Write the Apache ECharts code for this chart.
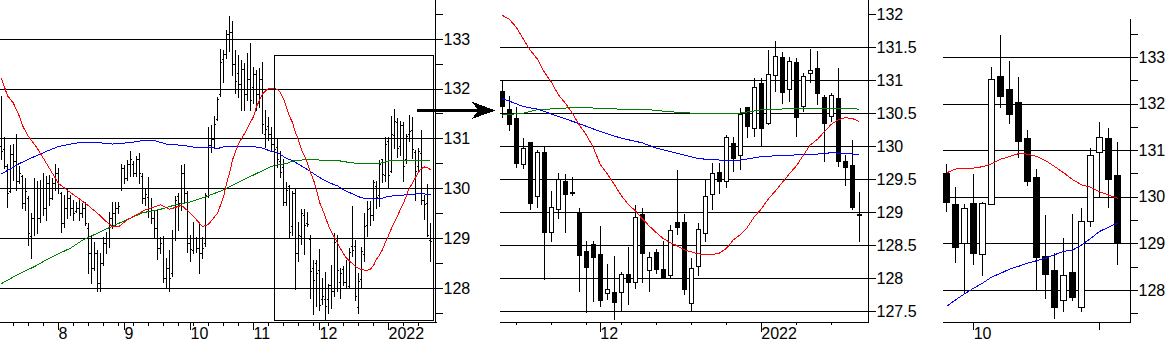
<!DOCTYPE html>
<html><head><meta charset="utf-8">
<script src="https://cdn.jsdelivr.net/npm/echarts@6/dist/echarts.min.js"></script>
<style>html,body{margin:0;padding:0;background:#fff}#c{width:1168px;height:358px}
#c svg path,#c svg line,#c svg rect,#c svg polyline,#c svg polygon{shape-rendering:crispEdges}</style>
</head><body><div id="c"></div><script>
// ---------------- DATA ----------------
const dayStart = '2021-07-06';      // first daily bar
const dayCount = 144;
const zoomFrom = 92;                // first bar of the zoomed (middle) panel
const weekStart = '2021-09-06';     // first weekly candle
const weekCount = 20;
const weekTickIdx = [3, 17];
const weekTickText = ['10', ''];

const dOpen = [130.85,130.80,130.45,129.95,130.70,130.55,130.15,130.25,129.70,129.80,
129.05,129.40,130.00,129.40,130.00,129.60,130.10,129.80,130.10,130.30,
129.90,129.30,129.60,129.80,129.60,129.55,129.60,129.50,129.60,129.20,
128.70,128.40,128.70,128.10,128.50,128.90,129.00,129.40,129.50,129.60,
130.00,130.40,130.20,130.50,130.50,130.30,130.60,130.25,129.80,129.83,
129.60,129.40,129.20,128.80,129.01,128.20,128.40,128.30,129.00,129.85,
129.70,130.30,129.90,128.90,128.77,129.00,128.80,128.70,128.90,129.84,
130.87,131.00,131.40,131.90,132.59,132.70,133.10,133.15,132.50,132.31,
132.10,132.40,131.90,132.20,132.03,132.30,131.90,132.20,131.10,131.26,
131.10,130.90,
130.83,130.56,130.42,129.72,130.05,129.24,129.91,128.70,
129.04,129.47,129.30,128.99,128.41,128.51,128.36,127.77,127.78,127.78,
128.06,127.93,128.97,128.12,128.39,128.13,128.04,128.85,128.84,127.62,
128.18,128.68,129.27,129.60,129.46,130.04,129.86,130.59,130.27,130.95,
130.34,131.07,131.34,130.86,131.27,130.60,131.10,131.18,130.73,130.45,
130.72,129.77,129.71,128.97];
const dHigh = [131.85,131.04,130.50,130.87,130.90,131.09,130.44,130.27,130.20,129.85,
129.50,130.20,130.14,130.17,130.30,130.24,130.27,130.20,130.50,130.40,
129.93,129.87,130.00,129.87,129.77,129.73,129.80,129.70,129.73,129.30,
129.06,128.93,128.76,128.70,129.03,129.13,129.53,129.73,129.73,129.73,
130.50,130.47,130.58,130.76,130.55,130.65,130.71,130.30,130.00,130.22,
129.80,129.55,129.57,129.03,129.05,128.60,128.76,129.17,129.85,129.90,
130.47,130.50,129.95,129.06,129.33,129.03,129.30,129.03,129.90,131.24,
131.27,131.45,131.84,132.79,132.78,133.18,133.47,133.36,132.78,132.68,
132.58,132.51,132.71,132.91,132.44,132.38,132.41,132.54,131.57,131.44,
131.24,131.17,
131.00,130.76,130.59,130.13,130.06,129.94,129.99,129.32,
129.59,129.58,129.53,129.06,128.56,128.56,128.79,128.21,128.33,128.09,
128.47,129.11,129.06,128.40,128.44,128.56,128.80,129.64,128.97,128.30,
128.83,129.50,129.74,129.74,130.17,130.14,130.57,130.59,131.03,131.03,
131.45,131.59,131.42,131.35,131.34,131.10,131.47,131.44,130.77,130.81,
131.18,129.86,130.09,129.31];
const dLow = [130.60,130.40,129.62,129.93,130.17,129.97,130.10,129.60,129.57,128.86,
128.60,129.06,129.10,129.33,129.47,129.37,129.67,129.78,129.97,129.90,
129.13,129.23,129.40,129.47,129.37,129.53,129.37,129.43,129.27,128.30,
128.10,128.36,127.93,127.93,128.46,128.70,128.83,129.20,129.27,129.50,
129.97,130.10,130.17,130.24,130.24,130.24,130.10,129.70,129.67,129.43,
129.30,129.03,128.59,128.70,128.13,128.03,127.93,128.25,128.96,129.17,
129.57,129.73,128.73,128.54,128.70,128.73,128.31,128.60,128.85,129.82,
130.74,130.84,131.37,131.85,132.14,132.61,132.75,132.28,131.91,131.84,
131.57,131.57,131.77,131.57,131.71,131.57,131.64,131.11,130.83,130.97,
130.77,130.57,
130.43,130.23,129.67,129.66,129.03,129.07,127.97,128.55,
128.89,128.68,129.24,127.79,127.47,127.64,127.56,127.67,127.37,127.50,
127.60,127.83,127.93,127.79,128.07,128.00,128.00,128.65,127.75,127.49,
128.03,128.55,129.04,129.27,129.37,129.61,129.64,130.12,130.14,130.00,
130.32,130.82,130.64,130.67,130.14,130.52,130.95,130.62,129.76,130.37,
129.69,129.39,129.04,128.55];
const dClose = [130.75,130.45,129.90,130.70,130.55,130.15,130.30,129.70,129.95,129.10,
129.40,130.00,129.40,130.00,129.60,130.10,129.80,130.10,130.30,130.00,
129.30,129.60,129.80,129.60,129.50,129.60,129.50,129.60,129.30,128.70,
128.40,128.70,128.10,128.50,128.90,129.00,129.40,129.50,129.60,129.65,
130.40,130.20,130.50,130.60,130.30,130.60,130.30,129.80,129.89,129.60,
129.40,129.20,128.80,128.91,128.20,128.40,128.20,129.00,129.76,129.70,
130.30,129.90,128.90,128.79,129.00,128.80,128.70,128.80,129.86,130.87,
131.00,131.30,131.80,132.53,132.70,133.10,133.15,132.50,132.16,132.10,
132.40,131.90,132.20,131.78,132.30,131.90,132.20,131.30,131.20,131.10,
130.90,130.80,
130.60,130.32,129.73,129.97,129.13,129.91,128.70,129.07,
129.50,129.27,129.28,128.34,128.17,128.31,127.66,127.83,127.63,128.06,
127.93,128.92,128.37,128.31,128.13,128.00,128.72,128.77,127.83,128.15,
128.74,129.24,129.59,129.47,130.13,129.82,130.48,130.29,130.89,130.27,
131.09,131.35,130.81,131.28,130.44,131.05,131.15,130.80,130.34,130.76,
129.76,129.68,129.07,128.95];

// moving averages: [bar index, value]
const redMA = [[0,132.21],[2,131.86],[4,131.71],[6,131.44],[7,131.26],[9,131.04],[12,130.80],[14,130.60],[16,130.40],[19,130.10],
[22,129.96],[25,129.83],[28,129.70],[32,129.50],[35,129.33],[37,129.23],[39,129.23],[42,129.37],[45,129.47],[48,129.57],
[53,129.67],[56,129.58],[60,129.66],[63,129.50],[65,129.37],[67,129.23],[69,129.28],[72,129.50],[74,129.83],[75,130.10],
[76,130.30],[77,130.57],[79,130.90],[81,131.10],[84,131.44],[85,131.64],[87,131.90],[89,132.01],[91,132.01],
[92,131.98],[93,131.92],[94,131.80],[95,131.62],[96,131.45],[97,131.32],[98,131.12],[99,130.97],[100,130.78],[101,130.65],
[102,130.50],[103,130.32],[104,130.17],[105,129.98],[106,129.72],[107,129.58],[108,129.42],[109,129.25],[110,129.12],[111,129.02],
[112,128.90],[113,128.79],[114,128.69],[115,128.60],[116,128.54],[117,128.49],[118,128.43],[119,128.40],[120,128.37],[121,128.36],
[122,128.36],[123,128.38],[124,128.45],[125,128.58],[126,128.66],[127,128.77],[128,128.93],[129,129.05],[130,129.20],[131,129.32],
[132,129.45],[133,129.58],[134,129.70],[135,129.86],[136,130.02],[137,130.10],[138,130.22],[139,130.33],[140,130.40],[141,130.43],
[142,130.42],[143,130.37]];
const blueMA = [[0,130.29],[6,130.50],[11,130.64],[16,130.77],[19,130.84],[23,130.89],[26,130.92],[32,130.92],[37,130.89],[43,130.92],
[48,130.97],[51,130.96],[55,130.89],[61,130.86],[65,130.82],[70,130.82],[72,130.80],[75,130.85],[79,130.85],[83,130.85],
[87,130.81],[90,130.74],[92,130.72],[95,130.60],[97,130.56],[100,130.45],[103,130.34],[106,130.22],[109,130.12],[112,130.05],
[114,129.97],[117,129.89],[120,129.81],[123,129.79],[126,129.79],[129,129.84],[132,129.86],[135,129.87],[137,129.88],[139,129.90],
[141,129.89],[143,129.87]];
const greenMA = [[0,128.09],[6,128.29],[11,128.43],[16,128.60],[23,128.80],[27,128.96],[33,129.13],[38,129.27],[44,129.43],[47,129.51],
[53,129.58],[58,129.67],[63,129.73],[68,129.83],[74,129.97],[80,130.15],[85,130.30],[90,130.44],[92,130.47],[95,130.50],
[97,130.55],[100,130.57],[103,130.59],[106,130.57],[109,130.56],[113,130.55],[116,130.52],[119,130.50],[122,130.50],[126,130.50],
[129,130.55],[131,130.56],[136,130.57],[141,130.57],[143,130.56]];

const wOpen  = [130.50,129.83,129.01,129.85,128.77,129.84,132.59,132.31,132.03,131.26,130.42,128.71,128.43,127.78,128.38,127.62,129.47,130.96,131.26,130.45];
const wHigh  = [130.71,130.22,129.85,130.50,129.90,132.79,133.47,132.92,132.57,131.44,130.60,129.61,128.79,129.11,129.64,129.76,131.05,131.60,131.48,131.18];
const wLow   = [129.67,128.59,127.93,128.54,128.31,129.82,131.92,131.56,130.83,130.24,127.98,127.80,127.38,127.52,127.77,127.52,129.36,129.99,129.76,128.54];
const wClose = [129.89,128.91,129.76,128.79,129.86,132.53,132.16,131.78,131.20,130.33,128.70,128.34,127.63,128.32,127.83,129.47,130.90,131.28,130.37,128.99];
const wRedMA  = [130.52,130.60,130.62,130.62,130.65,130.71,130.81,130.87,130.93,130.92,130.87,130.78,130.65,130.52,130.37,130.26,130.21,130.11,130.04,129.97];
const wBlueMA = [127.65,127.79,127.92,128.04,128.15,128.28,128.36,128.45,128.51,128.58,128.63,128.68,128.76,128.83,128.86,128.97,129.11,129.26,129.35,129.44];

// ---------------- DERIVED ----------------
function weekdays(start, n) {
  const out = []; const d = new Date(start + 'T00:00:00Z');
  while (out.length < n) { const w = d.getUTCDay(); if (w !== 0 && w !== 6) out.push(d.toISOString().slice(0,10)); d.setUTCDate(d.getUTCDate() + 1); }
  return out;
}
function weeks(start, n) {
  const out = []; const d = new Date(start + 'T00:00:00Z');
  for (let i = 0; i < n; i++) { out.push(d.toISOString().slice(0,10)); d.setUTCDate(d.getUTCDate() + 7); }
  return out;
}
const days = weekdays(dayStart, dayCount);
const wdays = weeks(weekStart, weekCount);
const isMonthStart = days.map((d, i) => i > 0 && d.slice(5,7) !== days[i-1].slice(5,7));
const isMonday = days.map(d => new Date(d + 'T00:00:00Z').getUTCDay() === 1);
const monthLabel = d => { const m = +d.slice(5,7); return m === 1 ? d.slice(0,4) : String(m); };

const ohlcData = days.map((d, i) => [i, dOpen[i], dHigh[i], dLow[i], dClose[i]]);
const midDays = days.slice(zoomFrom);
const midCandles = midDays.map((d, k) => { const i = k + zoomFrom; return [dOpen[i], dClose[i], dLow[i], dHigh[i]]; });
const toMid = arr => arr.filter(p => p[0] >= zoomFrom).map(p => [p[0] - zoomFrom, p[1]]);
const wCandles = wdays.map((d, i) => [wOpen[i], wClose[i], wLow[i], wHigh[i]]);

// ---------------- CHART ----------------
const FONT = "'Liberation Sans', Arial, sans-serif";
const BLACK = '#000';
const lbl = { color: BLACK, fontFamily: FONT, fontSize: 16 };

function renderOHLC(params, api) {
  const i = api.value(0);
  const pO = api.coord([i, api.value(1)]), pH = api.coord([i, api.value(2)]);
  const pL = api.coord([i, api.value(3)]), pC = api.coord([i, api.value(4)]);
  const x = Math.floor(pH[0]) + 0.5;
  const yo = Math.round(pO[1]) + 0.5, yc = Math.round(pC[1]) + 0.5;
  const st = { stroke: BLACK, lineWidth: 1 };
  return { type: 'group', children: [
    { type: 'line', shape: { x1: x, y1: Math.round(pH[1]), x2: x, y2: Math.round(pL[1]) + 1 }, style: st },
    { type: 'line', shape: { x1: x - 1.5, y1: yo, x2: x - 0.5, y2: yo }, style: st },
    { type: 'line', shape: { x1: x + 0.5, y1: yc, x2: x + 1.5, y2: yc }, style: st }
  ]};
}

const gridBase = { containLabel: false, outerBoundsMode: 'none' };
const grids = [
  Object.assign({ left: 0,     top: 14.1, width: 432,   height: 298.8 }, gridBase), // 0 left data
  Object.assign({ left: 0,     top: 39,   width: 435.5, height: 249   }, gridBase), // 1 left grid lines
  Object.assign({ left: 498.8, top: 14,   width: 364,   height: 297.3 }, gridBase), // 2 mid data
  Object.assign({ left: 500,   top: 47.04,width: 368.5, height: 264.26}, gridBase), // 3 mid grid lines
  Object.assign({ left: 942.2, top: 34.0, width: 180,   height: 279.3 }, gridBase), // 4 right data
  Object.assign({ left: 943,   top: 57.3, width: 187.5, height: 232.7 }, gridBase)  // 5 right grid lines
];

function catAxis(gridIndex, data, offset, tickFn, tickLen, labelFn, labelText) {
  return {
    type: 'category', gridIndex, data, position: 'bottom', offset,
    axisLine: { show: false },
    axisTick: { show: true, alignWithLabel: true, length: tickLen, interval: tickFn, lineStyle: { color: BLACK, width: 1 } },
    axisLabel: labelFn ? Object.assign({ show: true, interval: labelFn, formatter: labelText, align: 'left', margin: 3 }, lbl) : { show: false },
    splitLine: { show: false }
  };
}
const hiddenX = gi => ({ type: 'value', gridIndex: gi, show: false, min: 0, max: 1 });

const xAxes = [
  catAxis(0, days, 9.1, i => isMonday[i], 4, null),
  catAxis(0, days, 9.1, i => isMonthStart[i], 8, i => isMonthStart[i], (v) => monthLabel(v)),
  hiddenX(1),
  catAxis(2, midDays, 10.7, k => isMonday[k + zoomFrom], 3, null),
  catAxis(2, midDays, 10.7, k => isMonthStart[k + zoomFrom], 10, k => isMonthStart[k + zoomFrom], (v) => monthLabel(v)),
  hiddenX(3),
  catAxis(4, wdays, 8.7, i => weekTickIdx.includes(i), 8, i => weekTickIdx.includes(i) && weekTickText[weekTickIdx.indexOf(i)] !== '', (v) => weekTickText[weekTickIdx.indexOf(wdays.indexOf(v))] || ''),
  hiddenX(5)
];

function dataY(gi, min, max, interval, offset, intOnly) {
  return {
    type: 'value', gridIndex: gi, min, max, interval, position: 'right', offset,
    axisLine: { show: false },
    axisTick: { show: true, length: 7, inside: false, lineStyle: { color: BLACK, width: 1 } },
    axisLabel: Object.assign({ show: true, margin: 8, showMinLabel: true, showMaxLabel: true,
      formatter: v => intOnly ? (Math.abs(v - Math.round(v)) < 1e-6 ? String(Math.round(v)) : '') : String(v) }, lbl),
    splitLine: { show: false }
  };
}
function gridY(gi, min, max, interval) {
  return {
    type: 'value', gridIndex: gi, min, max, interval, position: 'right',
    axisLine: { show: false }, axisTick: { show: false }, axisLabel: { show: false },
    splitLine: { show: true, showMinLine: true, showMaxLine: true, lineStyle: { color: BLACK, width: 1 } }
  };
}
const yAxes = [
  dataY(0, 127.5, 133.5, 0.5, 3.5, true),
  gridY(1, 128, 133, 1),
  dataY(2, 127.5, 132, 0.5, 5.7, false),
  gridY(3, 127.5, 131.5, 0.5),
  dataY(4, 127.5, 133.5, 0.5, 8.3, true),
  gridY(5, 128, 133, 1)
];

const lineS = (name, data, color, xi, yi) => ({
  name, type: 'line', data, xAxisIndex: xi, yAxisIndex: yi, showSymbol: false, symbol: 'none',
  connectNulls: true, smooth: false, clip: false, silent: true, z: 5,
  lineStyle: { color, width: 1 }
});
const candleStyle = { color: '#fff', color0: BLACK, borderColor: BLACK, borderColor0: BLACK, borderWidth: 1 };

const series = [
  { type: 'custom', name: 'daily bars', xAxisIndex: 0, yAxisIndex: 0, renderItem: renderOHLC,
    data: ohlcData, encode: { x: 0, y: [1, 2, 3, 4] }, silent: true, clip: false, z: 2 },
  lineS('green', greenMA, '#008000', 0, 0),
  lineS('blue', blueMA, '#0000ff', 0, 0),
  lineS('red', redMA, '#ff0000', 0, 0),
  { type: 'candlestick', name: 'daily zoom', xAxisIndex: 3, yAxisIndex: 2, data: midCandles,
    barWidth: 5, itemStyle: candleStyle, clip: false, silent: true, z: 2 },
  lineS('green2', toMid(greenMA), '#008000', 3, 2),
  lineS('blue2', toMid(blueMA), '#0000ff', 3, 2),
  lineS('red2', toMid(redMA), '#ff0000', 3, 2),
  { type: 'candlestick', name: 'weekly', xAxisIndex: 6, yAxisIndex: 4, data: wCandles,
    barWidth: 6, itemStyle: candleStyle, clip: false, silent: true, z: 2 },
  lineS('wblue', wBlueMA, '#0000ff', 6, 4),
  lineS('wred', wRedMA, '#ff0000', 6, 4)
];

const ax = { stroke: BLACK, lineWidth: 1 };
const graphic = [
  { type: 'line', silent: true, z: 10, shape: { x1: 0, y1: 322.5, x2: 437, y2: 322.5 }, style: ax },
  { type: 'line', silent: true, z: 10, shape: { x1: 435.5, y1: 0, x2: 435.5, y2: 322.5 }, style: ax },
  { type: 'line', silent: true, z: 10, shape: { x1: 500, y1: 322.5, x2: 869, y2: 322.5 }, style: ax },
  { type: 'line', silent: true, z: 10, shape: { x1: 868.5, y1: 0, x2: 868.5, y2: 322.5 }, style: ax },
  { type: 'line', silent: true, z: 10, shape: { x1: 943, y1: 322.5, x2: 1131, y2: 322.5 }, style: ax },
  { type: 'line', silent: true, z: 10, shape: { x1: 1130.5, y1: 19, x2: 1130.5, y2: 322.5 }, style: ax },
  { type: 'rect', silent: true, z: 10, shape: { x: 274.5, y: 55.5, width: 159, height: 265 }, style: { fill: 'none', stroke: BLACK, lineWidth: 1 } },
  { type: 'line', silent: true, z: 10, shape: { x1: 417, y1: 110.5, x2: 478, y2: 110.5 }, style: { stroke: BLACK, lineWidth: 3 } },
  { type: 'polygon', silent: true, z: 10, shape: { points: [[471.5, 101.5], [495.5, 110.5], [471.5, 119], [478.5, 110.5]] }, style: { fill: BLACK } }
];

const chart = echarts.init(document.getElementById('c'), null, { renderer: 'svg', width: 1168, height: 358 });
chart.setOption({
  animation: false,
  backgroundColor: '#fff',
  textStyle: { fontFamily: FONT },
  grid: grids, xAxis: xAxes, yAxis: yAxes, series, graphic
});
</script></body></html>
